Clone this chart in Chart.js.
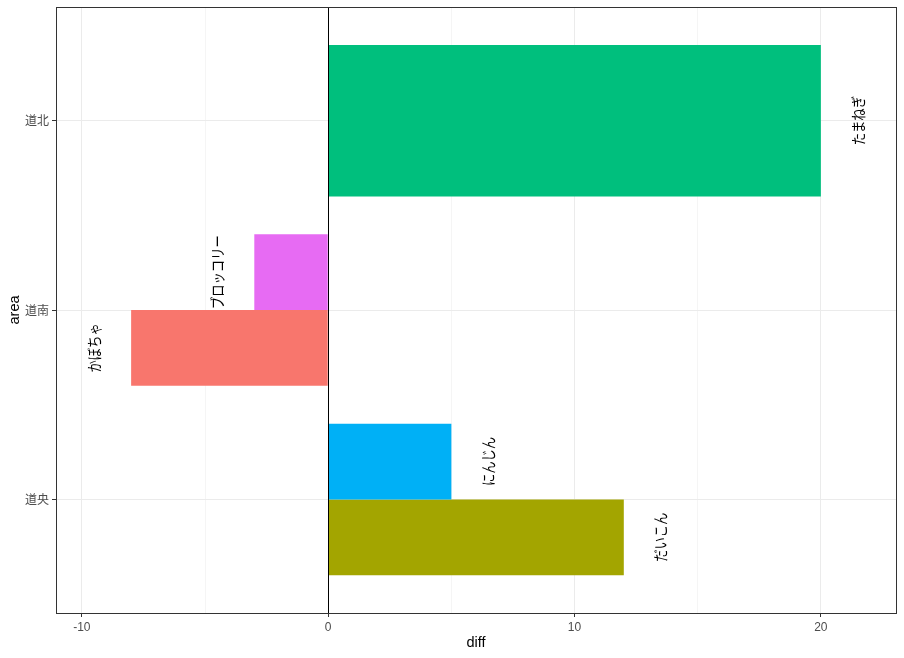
<!DOCTYPE html>
<html lang="ja">
<head>
<meta charset="utf-8">
<title>diff par area</title>
<script src="https://cdn.jsdelivr.net/npm/chart.js@4.4.0/dist/chart.umd.min.js"></script>
<style>
  html, body { margin: 0; padding: 0; background: #fff; }
  #wrap { width: 904px; height: 658px; }
</style>
</head>
<body>
<div id="wrap"><canvas id="diffChart" width="904" height="658"></canvas></div>
<script>
/* données du graphique */
const areas = ["道央", "道南", "道北"];          // y = 1, 2, 3 (du bas vers le haut)
const crops = ["かぼちゃ", "だいこん", "たまねぎ", "にんじん", "ブロッコリー"];
const cropAreas = ["道南", "道央", "道北", "道央", "道南"];
const diffs = [-8, 12, 20, 5, -3];
const cropColors = ["#F8766D", "#A3A500", "#00BF7D", "#00B0F6", "#E76BF3"];
const xBreaks = [-10, 0, 10, 20];
const xMinorBreaks = [-5, 5, 15];
const xLimits = [-11.05, 23.05];
const yLimits = [0.4, 3.6];

// décalage des étiquettes par rapport au bout de la barre
const labelNudge = 1.5;

/* datasets : ordre inversé pour que le premier facteur soit en bas du groupe */
const datasets = crops.map((crop, c) => ({
  label: crop,
  data: areas.map((area, i) => ({ x: area === cropAreas[c] ? diffs[c] : null, y: i + 1 })),
  backgroundColor: cropColors[c],
  borderWidth: 0
})).reverse();

/* plugin : fond, ligne du zéro, étiquettes verticales, cadre du panneau */
const panelPlugin = {
  id: "panel",
  beforeDraw(chart) {
    const { ctx } = chart;
    ctx.save();
    ctx.fillStyle = "#ffffff";
    ctx.fillRect(0, 0, chart.width, chart.height);
    ctx.restore();
  },
  afterDatasetsDraw(chart) {
    const { ctx, chartArea: a, scales } = chart;
    ctx.save();

    // ligne verticale à x = 0
    const x0 = Math.round(scales.x.getPixelForValue(0)) + 0.5;
    ctx.strokeStyle = "#000000";
    ctx.lineWidth = 1;
    ctx.beginPath();
    ctx.moveTo(x0, a.top);
    ctx.lineTo(x0, a.bottom);
    ctx.stroke();

    // étiquettes des légumes, tournées de 90°
    ctx.fillStyle = "#000000";
    ctx.font = '15px "Noto Sans CJK JP"';
    ctx.textAlign = "center";
    ctx.textBaseline = "middle";
    chart.data.datasets.forEach((ds, d) => {
      const meta = chart.getDatasetMeta(d);
      ds.data.forEach((pt, i) => {
        if (pt.x === null) return;
        const bar = meta.data[i];
        const lx = scales.x.getPixelForValue(pt.x + Math.sign(pt.x) * labelNudge);
        ctx.save();
        ctx.translate(lx, bar.y);
        ctx.rotate(-Math.PI / 2);
        ctx.scale(0.82, 1);
        ctx.fillText(ds.label, 0, 0);
        ctx.restore();
      });
    });

    // cadre (theme_bw)
    ctx.strokeStyle = "#333333";
    ctx.lineWidth = 1;
    ctx.strokeRect(a.left + 0.5, a.top + 0.5, a.right - a.left, a.bottom - a.top);
    ctx.restore();
  }
};

/* création du graphique */
const canvas = document.getElementById("diffChart");
new Chart(canvas, {
  type: "bar",
  data: { datasets },
  plugins: [panelPlugin],
  options: {
    indexAxis: "y",
    responsive: false,
    animation: false,
    skipNull: true,
    categoryPercentage: 0.8,
    barPercentage: 1,
    layout: { padding: { top: 7, right: 8, bottom: 0, left: 0 } },
    plugins: {
      legend: { display: false },
      tooltip: { enabled: false }
    },
    scales: {
      x: {
        type: "linear",
        position: "bottom",
        min: xLimits[0],
        max: xLimits[1],
        afterBuildTicks: scale => {
          scale.ticks = [...xBreaks, ...xMinorBreaks].sort((p, q) => p - q).map(v => ({ value: v }));
        },
        afterFit: scale => {
          scale.height = 45;
          scale.paddingLeft = 0;
          scale.paddingRight = 0;
        },
        border: { display: false },
        grid: {
          color: "#EBEBEB",
          lineWidth: c => xBreaks.includes(c.tick.value) ? 1 : 0.5,
          tickColor: c => xBreaks.includes(c.tick.value) ? "#333333" : "rgba(0,0,0,0)",
          tickLength: 4,
          tickWidth: 1
        },
        ticks: {
          autoSkip: false,
          maxRotation: 0,
          padding: 3,
          color: "#4D4D4D",
          font: { family: '"Liberation Sans", Arial, sans-serif', size: 12 },
          callback: v => xBreaks.includes(v) ? String(v) : ""
        },
        title: {
          display: true,
          text: "diff",
          color: "#000000",
          font: { family: '"Liberation Sans", Arial, sans-serif', size: 14.5 },
          padding: { top: 0, bottom: 6 }
        }
      },
      y: {
        type: "linear",
        position: "left",
        offset: false,
        min: yLimits[0],
        max: yLimits[1],
        afterBuildTicks: scale => {
          scale.ticks = areas.map((_, i) => ({ value: i + 1 }));
        },
        afterFit: scale => {
          scale.width = 56;
          scale.paddingTop = 0;
          scale.paddingBottom = 0;
        },
        border: { display: false },
        grid: {
          offset: false,
          color: "#EBEBEB",
          lineWidth: 1,
          tickColor: "#333333",
          tickLength: 4,
          tickWidth: 1
        },
        ticks: {
          autoSkip: false,
          padding: 3,
          color: "#4D4D4D",
          font: { family: '"Noto Sans CJK JP", sans-serif', size: 12 },
          callback: v => areas[v - 1] || ""
        },
        title: {
          display: true,
          text: "area",
          color: "#000000",
          font: { family: '"Liberation Sans", Arial, sans-serif', size: 14.5 },
          padding: { top: 6, bottom: 0 }
        }
      }
    }
  }
});
</script>
</body>
</html>
